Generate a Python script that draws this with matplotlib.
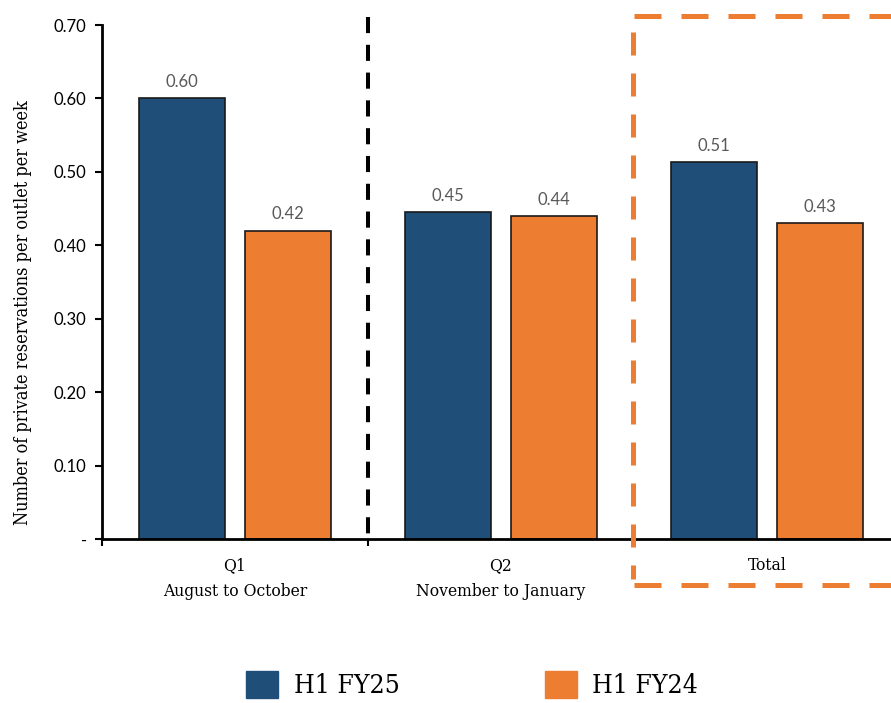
import matplotlib.pyplot as plt
from matplotlib.lines import Line2D
from matplotlib.patches import Patch

# Datos: reservas privadas por local por semana
categorias = ['Q1\nAugust to October', 'Q2\nNovember to January', 'Total']
h1_fy25 = [0.60, 0.445, 0.513]
h1_fy24 = [0.42, 0.44, 0.43]
series = ['H1 FY25', 'H1 FY24']
ticks_y = [0.0, 0.1, 0.2, 0.3, 0.4, 0.5, 0.6, 0.7]
etiquetas_y = ['-', '0.10', '0.20', '0.30', '0.40', '0.50', '0.60', '0.70']

azul = '#1F4E79'
naranja = '#ED7D31'
serif = 'DejaVu Serif'
sans = 'Lato'

W, H = 891, 703
fig = plt.figure(figsize=(W / 100, H / 100), dpi=100)
ax = fig.add_axes([102 / W, (H - 539) / H, 798 / W, 514 / H])

x = [i + 0.5 for i in range(len(categorias))]
ancho = 0.325
barras1 = ax.bar([v - 0.2 for v in x], h1_fy25, ancho, color=azul,
                 edgecolor='#1a1a1a', linewidth=1.2, zorder=3)
barras2 = ax.bar([v + 0.2 for v in x], h1_fy24, ancho, color=naranja,
                 edgecolor='#1a1a1a', linewidth=1.2, zorder=3)

# Etiquetas de valor sobre cada barra
for barras, valores in [(barras1, h1_fy25), (barras2, h1_fy24)]:
    for b, v in zip(barras, valores):
        ax.annotate(f'{v:.2f}', (b.get_x() + b.get_width() / 2, v),
                    xytext=(0, 6), textcoords='offset points',
                    ha='center', va='bottom', fontsize=12,
                    family=sans, color='#595959')

ax.set_xlim(0, 3)
ax.set_ylim(0, 0.70)

# Ejes
for lado in ['top', 'right']:
    ax.spines[lado].set_visible(False)
ax.spines['left'].set_linewidth(2)
ax.spines['bottom'].set_linewidth(2)
ax.spines['left'].set_zorder(4)
ax.spines['bottom'].set_zorder(4)

ax.set_yticks(ticks_y)
ax.set_yticklabels(etiquetas_y, family=sans, fontsize=12)
ax.tick_params(axis='y', length=5, width=1.5, pad=6)

ax.set_xticks([0, 1, 2, 3])
ax.set_xticklabels([])
ax.set_xticks(x, minor=True)
ax.set_xticklabels(categorias, minor=True, family=serif, fontsize=12.5,
                   fontstretch='condensed', linespacing=1.65)
ax.tick_params(axis='x', which='major', length=5, width=1.5)
ax.tick_params(axis='x', which='minor', length=0, pad=13)

ax.set_ylabel('Number of private reservations per outlet per week',
              family=serif, fontsize=13, fontstretch='condensed')
ax.yaxis.set_label_coords(-0.0877, 0.44)

# Separador entre Q1 y Q2
ax.plot([1, 1], [0.711, 0], color='black', linewidth=2.9,
        linestyle=(0, (4.0, 2.9)), clip_on=False, zorder=2)

# Recuadro punteado alrededor del total
def px(xp, yp):
    return xp / W, (H - yp) / H

izq, arr, aba, der = 634, 16, 585, 960
for (x0, y0), (x1, y1), patron in [
        ((izq, arr), (der, arr), (0, (5.4, 4.0))),
        ((izq - 1, arr + 16), (izq - 1, aba - 6), (0, (4.6, 3.6))),
        ((izq, aba), (der, aba), (0, (5.4, 4.0)))]:
    a, b = px(x0, y0)
    c, d = px(x1, y1)
    fig.add_artist(Line2D([a, c], [b, d], transform=fig.transFigure,
                          color=naranja, linewidth=3.6, linestyle=patron,
                          solid_capstyle='butt', dash_capstyle='butt'))

# Leyenda
manejadores = [Patch(facecolor=azul, edgecolor=azul),
               Patch(facecolor=naranja, edgecolor=naranja)]
fig.legend(manejadores, series, loc='center', ncol=2, frameon=False,
           bbox_to_anchor=(0.53, 0.026), prop={'family': serif, 'size': 19,
                                               'stretch': 'condensed'},
           handlelength=1.2, handleheight=1.2, handletextpad=0.6,
           columnspacing=5.5, borderpad=0.1)

fig.savefig('out.png', dpi=100)
